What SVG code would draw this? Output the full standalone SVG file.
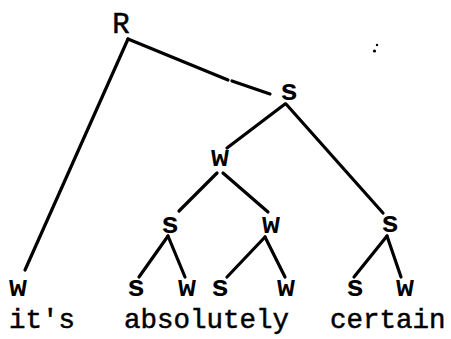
<svg xmlns="http://www.w3.org/2000/svg" width="451" height="339" viewBox="0 0 451 339">
<style>
.lbl{font-family:"Liberation Mono","Courier New",monospace;font-size:30px;font-weight:bold;fill:#000;text-anchor:middle}
.cap{font-family:"Liberation Mono","Courier New",monospace;font-size:29px;fill:#000;stroke:#000;stroke-width:0.5;text-anchor:middle}
.word{font-family:"Liberation Mono","Courier New",monospace;font-size:27.5px;fill:#000;stroke:#000;stroke-width:0.5}
.edge{stroke:#000;stroke-width:3.2;stroke-linecap:round;fill:none}
</style>
<rect width="451" height="339" fill="#fff"/>
<g id="connectors">
<path class="edge" d="M128,39 L25,270"/>
<path class="edge" d="M128,39 L228,80 M232,81 L270,94"/>
<path class="edge" d="M285,104 L227,148"/>
<path class="edge" d="M286,104 L383,213"/>
<path class="edge" d="M217,173 L179,211"/>
<path class="edge" d="M223,173 L268,212"/>
<path class="edge" d="M168,236 L139,277"/>
<path class="edge" d="M168,236 L185,277"/>
<path class="edge" d="M265,237 L227,277"/>
<path class="edge" d="M265,237 L285,277"/>
<path class="edge" d="M387,236 L354,277"/>
<path class="edge" d="M387,236 L401,277"/>
</g>
<g id="n-R"><text class="cap" x="121" y="33">R</text></g>
<g id="n-s1"><text class="lbl" x="289" y="100">s</text></g>
<g id="n-w1"><text class="lbl" x="220" y="166">w</text></g>
<g id="n-s2"><text class="lbl" x="170" y="233">s</text></g>
<g id="n-w2"><text class="lbl" x="271" y="233">w</text></g>
<g id="n-s3"><text class="lbl" x="390" y="232">s</text></g>
<g id="n-w3"><text class="lbl" x="18" y="296">w</text></g>
<g id="n-s4"><text class="lbl" x="136" y="296">s</text></g>
<g id="n-w4"><text class="lbl" x="187" y="296">w</text></g>
<g id="n-s5"><text class="lbl" x="220" y="296">s</text></g>
<g id="n-w5"><text class="lbl" x="286" y="296">w</text></g>
<g id="n-s6"><text class="lbl" x="355" y="296">s</text></g>
<g id="n-w6"><text class="lbl" x="405" y="296">w</text></g>
<g id="words">
<text class="word" x="9" y="328">it's</text>
<text class="word" x="124" y="328">absolutely</text>
<text class="word" x="330" y="328">certain</text>
</g>
<g id="specks"><circle cx="377" cy="45" r="1.2" fill="#000"/><circle cx="374.5" cy="51" r="1.6" fill="#000"/></g>
</svg>
